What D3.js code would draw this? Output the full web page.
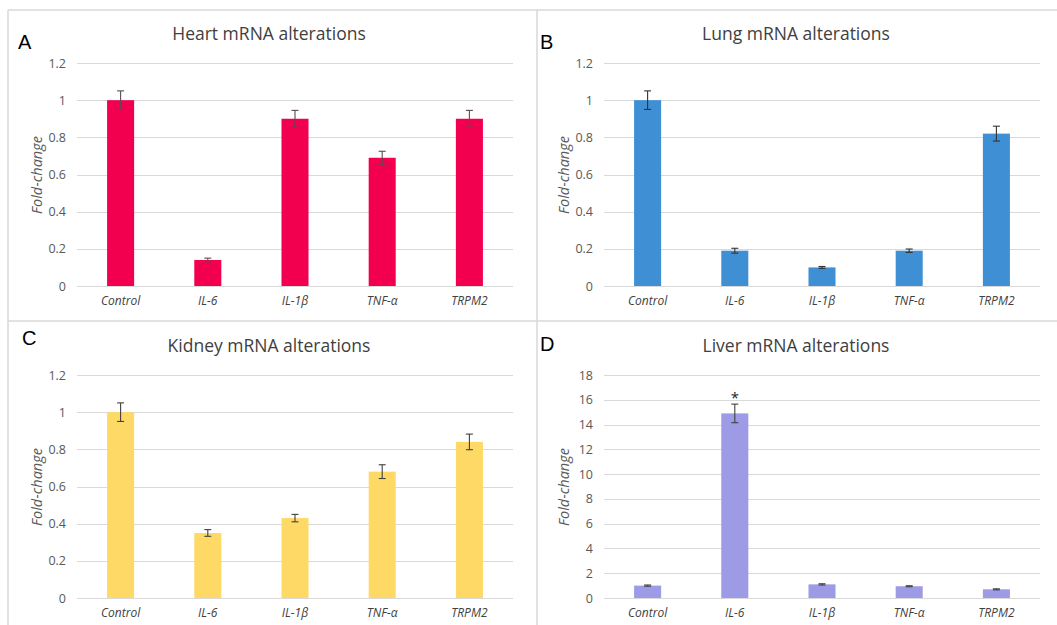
<!DOCTYPE html>
<html>
<head>
<meta charset="utf-8">
<script src="https://cdn.jsdelivr.net/npm/d3@7"></script>
<style>
  body { margin: 0; background: #fff; }
  svg { display: block; }
</style>
</head>
<body>
<svg></svg>
<script>
// Data
const categories = ["Control", "IL-6", "IL-1β", "TNF-α", "TRPM2"];

const heartValues = [1.0, 0.14, 0.90, 0.69, 0.90];
const heartErrors = [0.05, 0.01, 0.045, 0.035, 0.045];

const lungValues = [1.0, 0.19, 0.10, 0.19, 0.82];
const lungErrors = [0.05, 0.013, 0.005, 0.009, 0.04];

const kidneyValues = [1.0, 0.35, 0.43, 0.68, 0.84];
const kidneyErrors = [0.05, 0.018, 0.02, 0.037, 0.042];

const liverValues = [1.0, 14.9, 1.1, 0.95, 0.7];
const liverErrors = [0.05, 0.75, 0.05, 0.04, 0.04];

const smallTicks = [0, 0.2, 0.4, 0.6, 0.8, 1, 1.2];
const liverTicks = [0, 2, 4, 6, 8, 10, 12, 14, 16, 18];

const titles = ["Heart mRNA alterations", "Lung mRNA alterations", "Kidney mRNA alterations", "Liver mRNA alterations"];
const letters = ["A", "B", "C", "D"];

const width = 1057;
const height = 625;

const svg = d3.select("svg")
  .attr("width", width)
  .attr("height", height);

// panel frame lines
const frameColor = "#d9d9d9";
const frames = [
  [8, 10, width, 10],
  [8, 321, width, 321],
  [8, 10, 8, height],
  [537, 10, 537, height]
];
svg.selectAll(".frame")
  .data(frames)
  .enter()
  .append("line")
  .attr("x1", d => d[0]).attr("y1", d => d[1])
  .attr("x2", d => d[2]).attr("y2", d => d[3])
  .attr("stroke", frameColor)
  .attr("stroke-width", 1.5);

const panels = [
  { values: heartValues, errors: heartErrors, ticks: smallTicks, color: "#f2004f", errColor: "#5a4a56",
    ox: 0, oy: 0, letterX: 18, letterY: 49, star: false },
  { values: lungValues, errors: lungErrors, ticks: smallTicks, color: "#3f8fd5", errColor: "#333333",
    ox: 527, oy: 0, letterX: 540, letterY: 49, star: false },
  { values: kidneyValues, errors: kidneyErrors, ticks: smallTicks, color: "#ffd966", errColor: "#404040",
    ox: 0, oy: 312, letterX: 22, letterY: 345, star: false },
  { values: liverValues, errors: liverErrors, ticks: liverTicks, color: "#9d9ae6", errColor: "#404040",
    ox: 527, oy: 312, letterX: 540, letterY: 351, star: true }
];

panels.forEach((p, i) => {
  const g = svg.append("g")
    .attr("transform", `translate(${p.ox}, ${p.oy})`);

  const x = d3.scaleBand()
    .domain(categories)
    .range([77, 513])
    .paddingInner(0.69)
    .paddingOuter(0.345);

  const y = d3.scaleLinear()
    .domain([0, d3.max(p.ticks)])
    .range([286, 63]);

  // gridlines
  g.append("g")
    .selectAll("line")
    .data(p.ticks)
    .enter()
    .append("line")
    .attr("x1", 77)
    .attr("x2", 513)
    .attr("y1", d => Math.round(y(d)) + 0.5)
    .attr("y2", d => Math.round(y(d)) + 0.5)
    .attr("stroke", "#d9d9d9")
    .attr("stroke-width", 1);

  // y axis labels
  const yAxis = g.append("g")
    .attr("transform", "translate(69, 0)")
    .call(d3.axisLeft(y).tickValues(p.ticks).tickSize(0).tickPadding(3).tickFormat(d3.format("")));
  yAxis.select(".domain").remove();
  yAxis.selectAll("text")
    .attr("font-family", "Open Sans")
    .attr("font-size", 12.5)
    .attr("fill", "#595959");

  // x axis labels
  const xAxis = g.append("g")
    .attr("transform", "translate(0, 286)")
    .call(d3.axisBottom(x).tickSize(0).tickPadding(10));
  xAxis.select(".domain").remove();
  xAxis.selectAll("text")
    .attr("font-family", "Open Sans")
    .attr("font-style", "italic")
    .attr("font-size", 12)
    .attr("fill", "#404040");

  // bars
  g.selectAll(".bar")
    .data(p.values)
    .enter()
    .append("rect")
    .attr("class", "bar")
    .attr("x", (d, j) => x(categories[j]))
    .attr("y", d => y(d))
    .attr("width", x.bandwidth())
    .attr("height", d => y(0) - y(d))
    .attr("fill", p.color);

  // error bars
  const cap = 3.5;
  const err = g.selectAll(".err")
    .data(p.values)
    .enter()
    .append("g")
    .attr("class", "err")
    .attr("stroke", p.errColor)
    .attr("stroke-width", 1.1);
  err.append("line")
    .attr("x1", (d, j) => x(categories[j]) + x.bandwidth() / 2)
    .attr("x2", (d, j) => x(categories[j]) + x.bandwidth() / 2)
    .attr("y1", (d, j) => y(d - p.errors[j]))
    .attr("y2", (d, j) => y(d + p.errors[j]));
  err.append("line")
    .attr("x1", (d, j) => x(categories[j]) + x.bandwidth() / 2 - cap)
    .attr("x2", (d, j) => x(categories[j]) + x.bandwidth() / 2 + cap)
    .attr("y1", (d, j) => y(d + p.errors[j]))
    .attr("y2", (d, j) => y(d + p.errors[j]));
  err.append("line")
    .attr("x1", (d, j) => x(categories[j]) + x.bandwidth() / 2 - cap)
    .attr("x2", (d, j) => x(categories[j]) + x.bandwidth() / 2 + cap)
    .attr("y1", (d, j) => y(d - p.errors[j]))
    .attr("y2", (d, j) => y(d - p.errors[j]));

  // significance star
  if (p.star) {
    const top = d3.maxIndex(p.values);
    g.append("text")
      .attr("x", x(categories[top]) + x.bandwidth() / 2)
      .attr("y", y(p.values[top] + p.errors[top]) - 1)
      .attr("text-anchor", "middle")
      .attr("font-family", "Open Sans")
      .attr("font-size", 15)
      .attr("fill", "#222")
      .text("*");
  }

  // title
  g.append("text")
    .attr("x", 269)
    .attr("y", 40)
    .attr("text-anchor", "middle")
    .attr("font-family", "Open Sans")
    .attr("font-size", 17.5)
    .attr("fill", "#404040")
    .text(titles[i]);

  // y axis title
  g.append("text")
    .attr("transform", "translate(42, 175) rotate(-90)")
    .attr("text-anchor", "middle")
    .attr("font-family", "Open Sans")
    .attr("font-style", "italic")
    .attr("font-size", 14.5)
    .attr("fill", "#595959")
    .text("Fold-change");

  // panel letter
  svg.append("text")
    .attr("x", p.letterX)
    .attr("y", p.letterY)
    .attr("font-family", "Liberation Sans")
    .attr("font-size", 20)
    .attr("fill", "#000")
    .text(letters[i]);
});
</script>
</body>
</html>
